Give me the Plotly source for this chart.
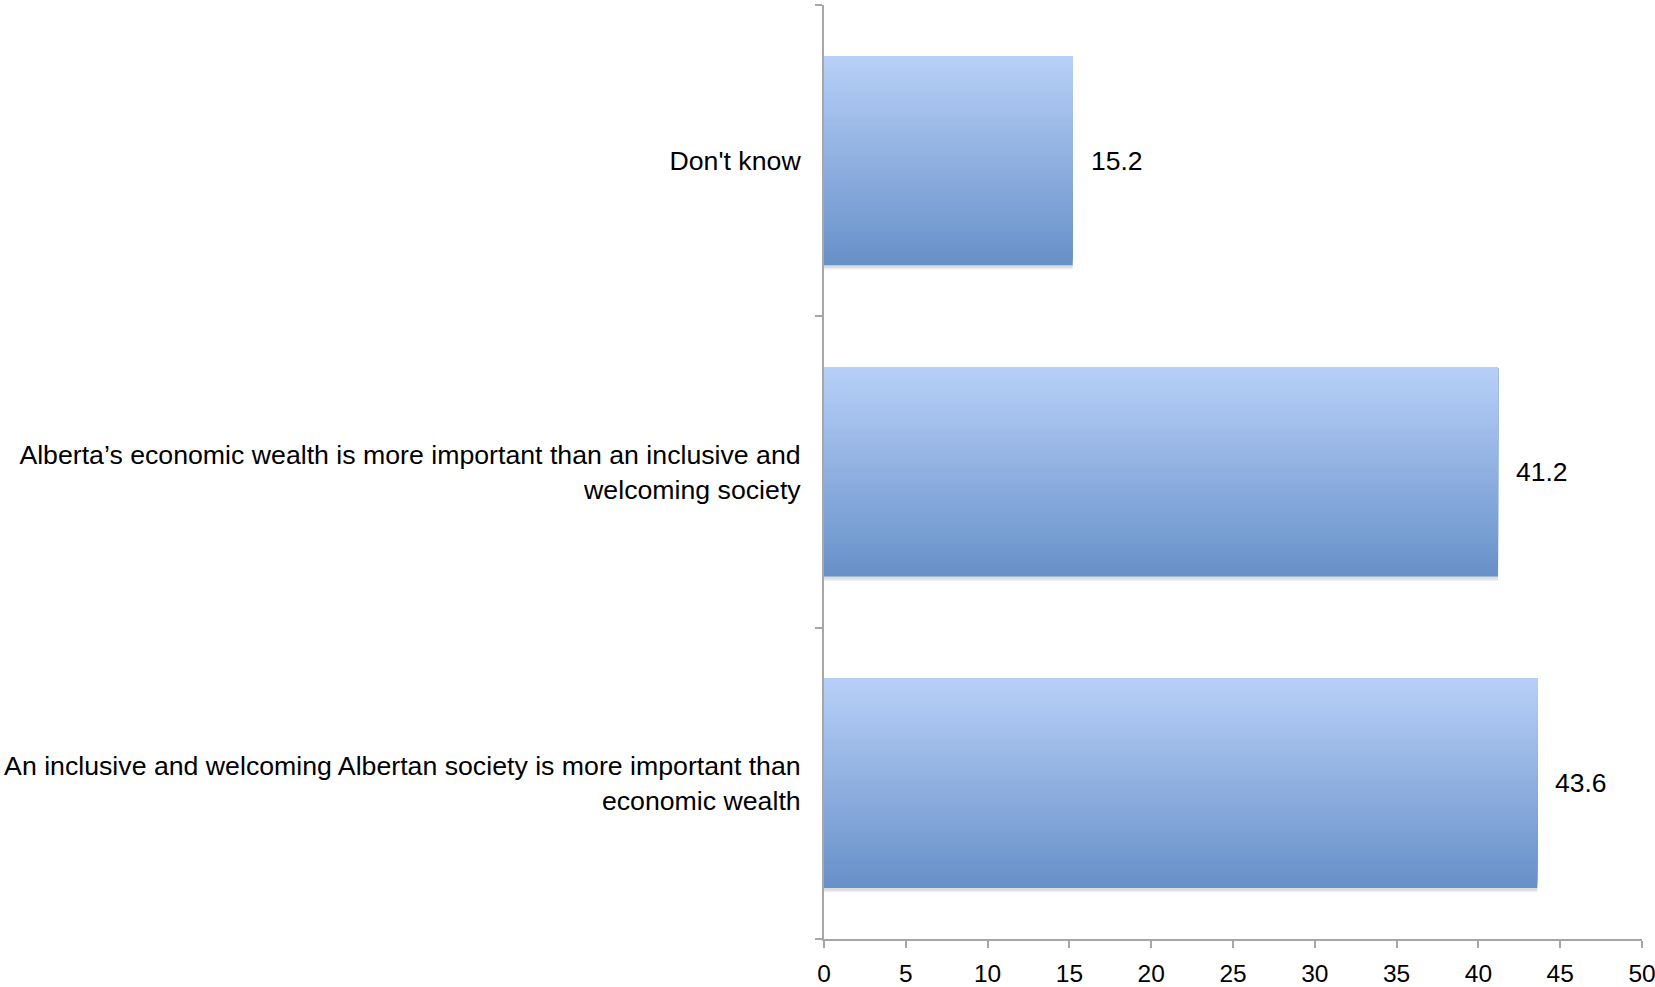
import plotly.graph_objects as go

categories = [
    "An inclusive and welcoming Albertan society is more important than<br>economic wealth",
    "Alberta\u2019s economic wealth is more important than an inclusive and<br>welcoming society",
    "Don't know",
]
values = [43.6, 41.2, 15.2]
labels = ["43.6", "41.2", "15.2"]
x_ticks = [0, 5, 10, 15, 20, 25, 30, 35, 40, 45, 50]

top_rgb = (183, 207, 248)
bot_rgb = (104, 145, 200)
N = 60
W = 0.672

fig = go.Figure()

# soft shadow
for s, a in [(0.014, 0.06), (0.009, 0.08)]:
    fig.add_trace(go.Bar(
        y=categories, x=values, orientation="h",
        width=W, offset=-W / 2 - s,
        marker=dict(color=f"rgba(0,0,0,{a})", line=dict(width=0)),
        hoverinfo="skip", showlegend=False,
    ))

# vertical gradient: each slice spans from its start to the bar top, later slices overlay earlier ones
for k in range(N):
    t = k / (N - 1)
    r = round(bot_rgb[0] + (top_rgb[0] - bot_rgb[0]) * t)
    g = round(bot_rgb[1] + (top_rgb[1] - bot_rgb[1]) * t)
    b = round(bot_rgb[2] + (top_rgb[2] - bot_rgb[2]) * t)
    start = -W / 2 + k * W / N
    fig.add_trace(go.Bar(
        y=categories, x=values, orientation="h",
        width=W / 2 - start, offset=start,
        marker=dict(color=f"rgb({r},{g},{b})", line=dict(width=0)),
        hoverinfo="skip" if k else "x+y", showlegend=False,
    ))

for c, v, lab in zip(categories, values, labels):
    fig.add_annotation(x=v, y=c, text=lab, showarrow=False,
                       xanchor="left", xshift=16,
                       font=dict(size=26.5, color="black"))

fig.update_layout(
    barmode="overlay",
    width=1655, height=987,
    margin=dict(l=824, r=13, t=5, b=48, autoexpand=False),
    paper_bgcolor="white", plot_bgcolor="white",
    font=dict(family="Liberation Sans, Arial, sans-serif", size=26.5, color="black"),
    xaxis=dict(range=[0, 50], tickvals=x_ticks, showgrid=False, zeroline=False,
               showline=True, linecolor="#a6a6a6", linewidth=2,
               ticks="outside", ticklen=7, tickwidth=2, tickcolor="#a6a6a6",
               ticklabelstandoff=5, ticklabeloverflow="allow", automargin=False,
               tickfont=dict(size=24.5)),
    yaxis=dict(type="category", categoryorder="array", categoryarray=categories,
               range=[-0.5, 2.5], showgrid=False, zeroline=False,
               showline=True, linecolor="#a6a6a6", linewidth=2,
               ticks="outside", ticklen=7, tickwidth=2, tickcolor="#a6a6a6",
               tickson="boundaries", ticklabelstandoff=16, automargin=False,
               ticklabeloverflow="allow", tickfont=dict(size=26.7)),
)

fig.write_html("out.html")
